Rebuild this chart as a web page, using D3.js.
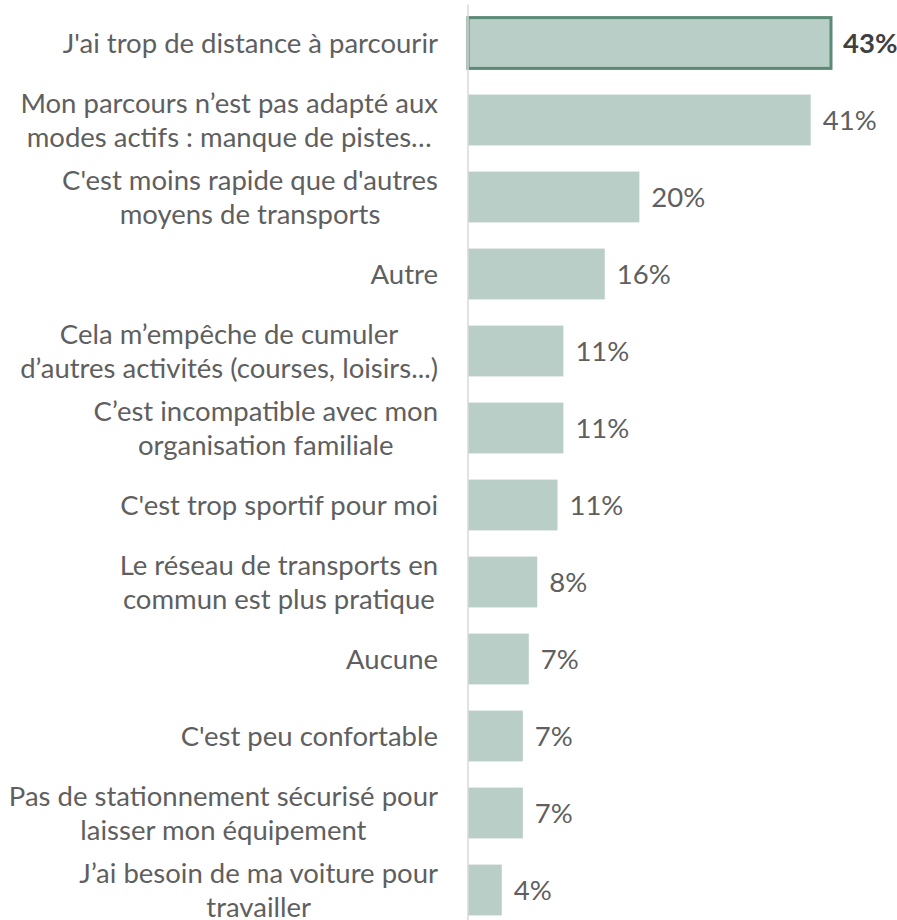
<!DOCTYPE html>
<html>
<head>
<meta charset="utf-8">
<script src="https://cdn.jsdelivr.net/npm/d3@7"></script>
<style>
  body { margin: 0; background: #fff; }
  text { font-family: Lato, "Open Sans", sans-serif; }
</style>
</head>
<body>
<div id="graph"></div>
<script>
// categories, one entry per bar, each line of the label as its own string
var categories = [
  ["J'ai trop de distance à parcourir"],
  ["Mon parcours n’est pas adapté aux", "modes actifs : manque de pistes…"],
  ["C'est moins rapide que d'autres", "moyens de transports"],
  ["Autre"],
  ["Cela m’empêche de cumuler", "d’autres activités (courses, loisirs...)"],
  ["C’est incompatible avec mon", "organisation familiale"],
  ["C'est trop sportif pour moi"],
  ["Le réseau de transports en", "commun est plus pratique"],
  ["Aucune"],
  ["C'est peu confortable"],
  ["Pas de stationnement sécurisé pour", "laisser mon équipement"],
  ["J’ai besoin de ma voiture pour", "travailler"]
];
var values = [43, 40.6, 20.3, 16.2, 11.3, 11.3, 10.6, 8.2, 7.2, 6.5, 6.5, 4.0];
var highlighted = [0]; // index of the outlined bar

var frameWidth = 897,
  frameHeight = 920;
var axisX = 468; // left edge of the bars
var barFill = "#b8cec6",
  barStroke = "#5b8a77",
  textColor = "#5f5f5f";
var fontSize = "27.5px";

var data = categories.map(function (c, i) {
  return { key: i, lines: c, value: values[i] };
});

var svg = d3
  .select("#graph")
  .append("svg")
  .attr("width", frameWidth)
  .attr("height", frameHeight);

var xScale = d3.scaleLinear().domain([0, 43]).range([0, 363]);
var yScale = d3
  .scaleBand()
  .domain(data.map(function (d) { return d.key; }))
  .range([4.5, 928.5])
  .paddingInner(0.34)
  .paddingOuter(0.17);

var g = svg.append("g").attr("transform", `translate(${axisX},0)`);

// bars
g.selectAll("rect.bar")
  .data(data)
  .enter()
  .append("rect")
  .attr("class", "bar")
  .attr("x", 0)
  .attr("y", function (d) { return yScale(d.key); })
  .attr("width", function (d) { return xScale(d.value); })
  .attr("height", yScale.bandwidth())
  .attr("fill", barFill)
  .attr("stroke", function (d) {
    return highlighted.indexOf(d.key) >= 0 ? barStroke : "none";
  })
  .attr("stroke-width", 3);

// vertical axis line
g.append("line")
  .attr("x1", 0)
  .attr("x2", 0)
  .attr("y1", 4.5)
  .attr("y2", frameHeight)
  .attr("stroke", "#d9d9d9")
  .attr("stroke-width", 1.5);

// value labels
g.selectAll("text.value")
  .data(data)
  .enter()
  .append("text")
  .attr("class", "value")
  .attr("x", function (d) { return xScale(d.value) + 12; })
  .attr("y", function (d) { return yScale(d.key) + yScale.bandwidth() / 2; })
  .attr("dy", "0.36em")
  .attr("font-size", fontSize)
  .attr("font-weight", function (d) {
    return highlighted.indexOf(d.key) >= 0 ? "bold" : "normal";
  })
  .attr("fill", function (d) {
    return highlighted.indexOf(d.key) >= 0 ? "#404040" : textColor;
  })
  .text(function (d) { return Math.round(d.value) + "%"; });

// category labels: lines centred together, block right-aligned to the axis
var lineGap = 34,
  labelRight = axisX - 30;
var labels = svg
  .selectAll("g.label")
  .data(data)
  .enter()
  .append("g")
  .attr("class", "label");

labels.each(function (d) {
  var grp = d3.select(this);
  var cy = yScale(d.key) + yScale.bandwidth() / 2;
  var n = d.lines.length;
  var texts = grp
    .selectAll("text")
    .data(d.lines)
    .enter()
    .append("text")
    .attr("y", function (l, i) { return cy + (i - (n - 1) / 2) * lineGap; })
    .attr("dy", "0.36em")
    .attr("font-size", fontSize)
    .attr("fill", textColor)
    .attr("text-anchor", "middle")
    .text(function (l) { return l; });
  var maxW = d3.max(texts.nodes(), function (t) { return t.getComputedTextLength(); });
  texts.attr("x", labelRight - maxW / 2);
});
</script>
</body>
</html>
